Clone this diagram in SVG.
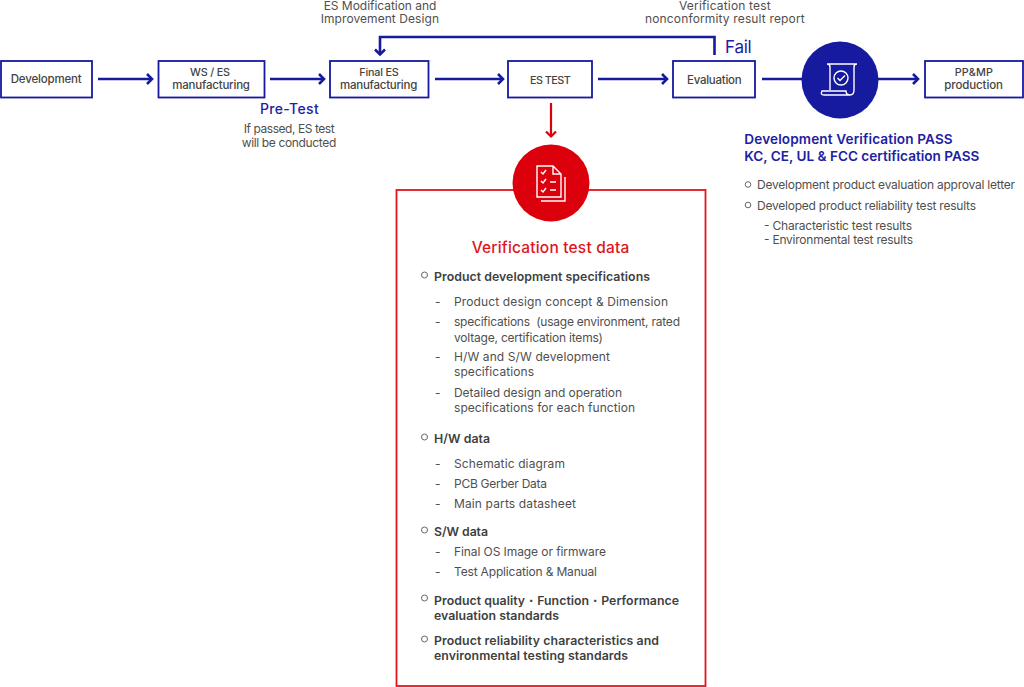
<svg xmlns="http://www.w3.org/2000/svg" width="1024" height="687" viewBox="0 0 1024 687">
<style>
text{font-family:"Inter","Noto Sans",sans-serif;font-size:12px;fill:#4f4f4f;white-space:pre}
.n{font-size:11.500px;font-weight:500;fill:#444}
.s{font-size:10.800px}
.b{font-size:12.300px;font-weight:600;fill:#3f3f3f}
.bl{fill:#1d22a2;font-weight:500}
.box{fill:#fff;stroke:#151a9e;stroke-width:1.800}
.c{fill:none;stroke:#151a9e;stroke-width:2.600}
.r{fill:none;stroke:#dc000c;stroke-width:2.200}
.bu{fill:#fff;stroke:#666;stroke-width:1}
.iw{fill:none;stroke:#fff;stroke-width:1.400}
</style>
<defs>
<marker id="a" markerUnits="userSpaceOnUse" markerWidth="10" markerHeight="14" refX="8" refY="7" orient="auto"><path d="M3 2L8 7L3 12" fill="none" stroke="#151a9e" stroke-width="2.600"/></marker>
<marker id="ar" markerUnits="userSpaceOnUse" markerWidth="10" markerHeight="14" refX="8" refY="7" orient="auto"><path d="M3 2L8 7L3 12" fill="none" stroke="#dc000c" stroke-width="2.200"/></marker>
</defs>
<g id="connectors">
<path class="c" marker-end="url(#a)" d="M98 79H152"/>
<path class="c" marker-end="url(#a)" d="M270 79H324"/>
<path class="c" marker-end="url(#a)" d="M435 79H503"/>
<path class="c" marker-end="url(#a)" d="M598 79H667"/>
<path class="c" d="M762 79H805"/>
<path class="c" marker-end="url(#a)" d="M878 79H918"/>
<path class="c" marker-end="url(#a)" d="M714.500 55V37H380V54.500"/>
<path class="r" marker-end="url(#ar)" d="M551 103V136.500"/>
</g>
<g id="development"><rect class="box" x="1" y="61" width="91" height="36.500"/><text class="n" x="10.700" y="83" textLength="71">Development</text></g>
<g id="ws-es"><rect class="box" x="158.500" y="61" width="106" height="36.500"/><text class="n s" x="190" y="76" textLength="40">WS / ES</text><text class="n" x="172.300" y="88.500" textLength="77.700">manufacturing</text></g>
<g id="final-es"><rect class="box" x="330" y="61" width="98.500" height="36.500"/><text class="n s" x="359.300" y="76" textLength="39.400">Final ES</text><text class="n" x="340" y="88.500" textLength="77.300">manufacturing</text></g>
<g id="es-test"><rect class="box" x="508" y="61" width="84" height="36.500"/><text class="n s" x="530" y="84" textLength="40.700">ES TEST</text></g>
<g id="evaluation"><rect class="box" x="673" y="61" width="82" height="36.500"/><text class="n" x="687" y="84" textLength="54.700">Evaluation</text></g>
<g id="pass-icon"><circle cx="840" cy="80" r="38.500" fill="#151a9e"/>
<path class="iw" d="M830 90V67Q830 64 827 64H857Q854 64 854 67V90Q854 95 850 95H824Q820 95 822 91H846Q846 95 850 95"/><circle cx="841" cy="78" r="7" class="iw"/><path class="iw" d="M837.500 78L840 80.500L845 75.500"/></g>
<g id="pp-mp"><rect class="box" x="925" y="61" width="98" height="36.500"/><text class="n s" x="954.700" y="76" textLength="38.300">PP&amp;MP</text><text class="n" x="944.300" y="88.500" textLength="58.700">production</text></g>
<g id="labels">
<text x="323.700" y="9.500" textLength="112.600">ES Modification and</text><text x="320.700" y="23" textLength="118.300">Improvement Design</text>
<text x="679" y="9.500" textLength="91.700">Verification test</text><text x="645" y="23" textLength="159.700">nonconformity result report</text>
<text class="bl" x="725" y="52.500" style="font-size:17px;font-weight:400" textLength="26.700">Fail</text>
<text class="bl" x="260" y="114" style="font-size:14px" textLength="58.700">Pre-Test</text>
<text x="243.700" y="133" textLength="91">If passed, ES test</text><text x="241.700" y="147" textLength="94.600">will be conducted</text>
</g>
<g id="pass-detail">
<text class="bl" x="744.300" y="144" style="font-size:13.600px;font-weight:600" textLength="208.400">Development Verification PASS</text>
<text class="bl" x="744.300" y="161" style="font-size:13.600px;font-weight:600" textLength="235">KC, CE, UL &amp; FCC certification PASS</text>
<circle class="bu" cx="748" cy="184.500" r="2.800"/><text x="757" y="189" textLength="258">Development product evaluation approval letter</text>
<circle class="bu" cx="748" cy="205" r="2.800"/><text x="757" y="209.500" textLength="219">Developed product reliability test results</text>
<text x="764" y="229.500" textLength="148">- Characteristic test results</text>
<text x="764" y="243.500" textLength="149">- Environmental test results</text>
</g>
<g id="test-data">
<rect x="396.500" y="190" width="309" height="496" fill="#fff" stroke="#e0141e" stroke-width="1.800"/>
<circle cx="551" cy="183" r="38.500" fill="#dc000c"/>
<path class="iw" d="M537 166H553L561 174V197H537ZM553 166V174H561M541 201H565V177"/>
<path class="iw" d="M541 172L543 174L546 170M541 181L543 183L546 179M541 190L543 192L546 188M550 182H556M550 190H556"/>
<text x="471.700" y="252.500" style="font-size:15.500px;font-weight:500;fill:#e0141e" textLength="157.600">Verification test data</text>
<circle class="bu" cx="424.500" cy="275" r="3"/><text class="b" x="434" y="281" textLength="216">Product development specifications</text>
<text x="435" y="305.500">-</text><text x="454" y="305.500" textLength="214">Product design concept &amp; Dimension</text>
<text x="435" y="325.500">-</text><text x="454" y="325.500" textLength="226">specifications  (usage environment, rated</text><text x="454" y="341.500" textLength="149">voltage, certification items)</text>
<text x="435" y="361">-</text><text x="454" y="361" textLength="156">H/W and S/W development</text><text x="454" y="376" textLength="80">specifications</text>
<text x="435" y="396.500">-</text><text x="454" y="396.500" textLength="168">Detailed design and operation</text><text x="454" y="412" textLength="181">specifications for each function</text>
<circle class="bu" cx="424.500" cy="437" r="3"/><text class="b" x="434" y="443" textLength="56">H/W data</text>
<text x="435" y="468">-</text><text x="454" y="468" textLength="111">Schematic diagram</text>
<text x="435" y="488">-</text><text x="454" y="488" textLength="93">PCB Gerber Data</text>
<text x="435" y="508">-</text><text x="454" y="508" textLength="122">Main parts datasheet</text>
<circle class="bu" cx="424.500" cy="530" r="3"/><text class="b" x="434" y="535.500" textLength="54">S/W data</text>
<text x="435" y="555.500">-</text><text x="454" y="555.500" textLength="152">Final OS Image or firmware</text>
<text x="435" y="575.500">-</text><text x="454" y="575.500" textLength="143">Test Application &amp; Manual</text>
<circle class="bu" cx="424.500" cy="598" r="3"/><text class="b" x="434" y="604.500" textLength="245">Product quality・Function・Performance</text><text class="b" x="434" y="620" textLength="125">evaluation standards</text>
<circle class="bu" cx="424.500" cy="639" r="3"/><text class="b" x="434" y="644.500" textLength="225">Product reliability characteristics and</text><text class="b" x="434" y="660" textLength="194">environmental testing standards</text>
</g>
</svg>
